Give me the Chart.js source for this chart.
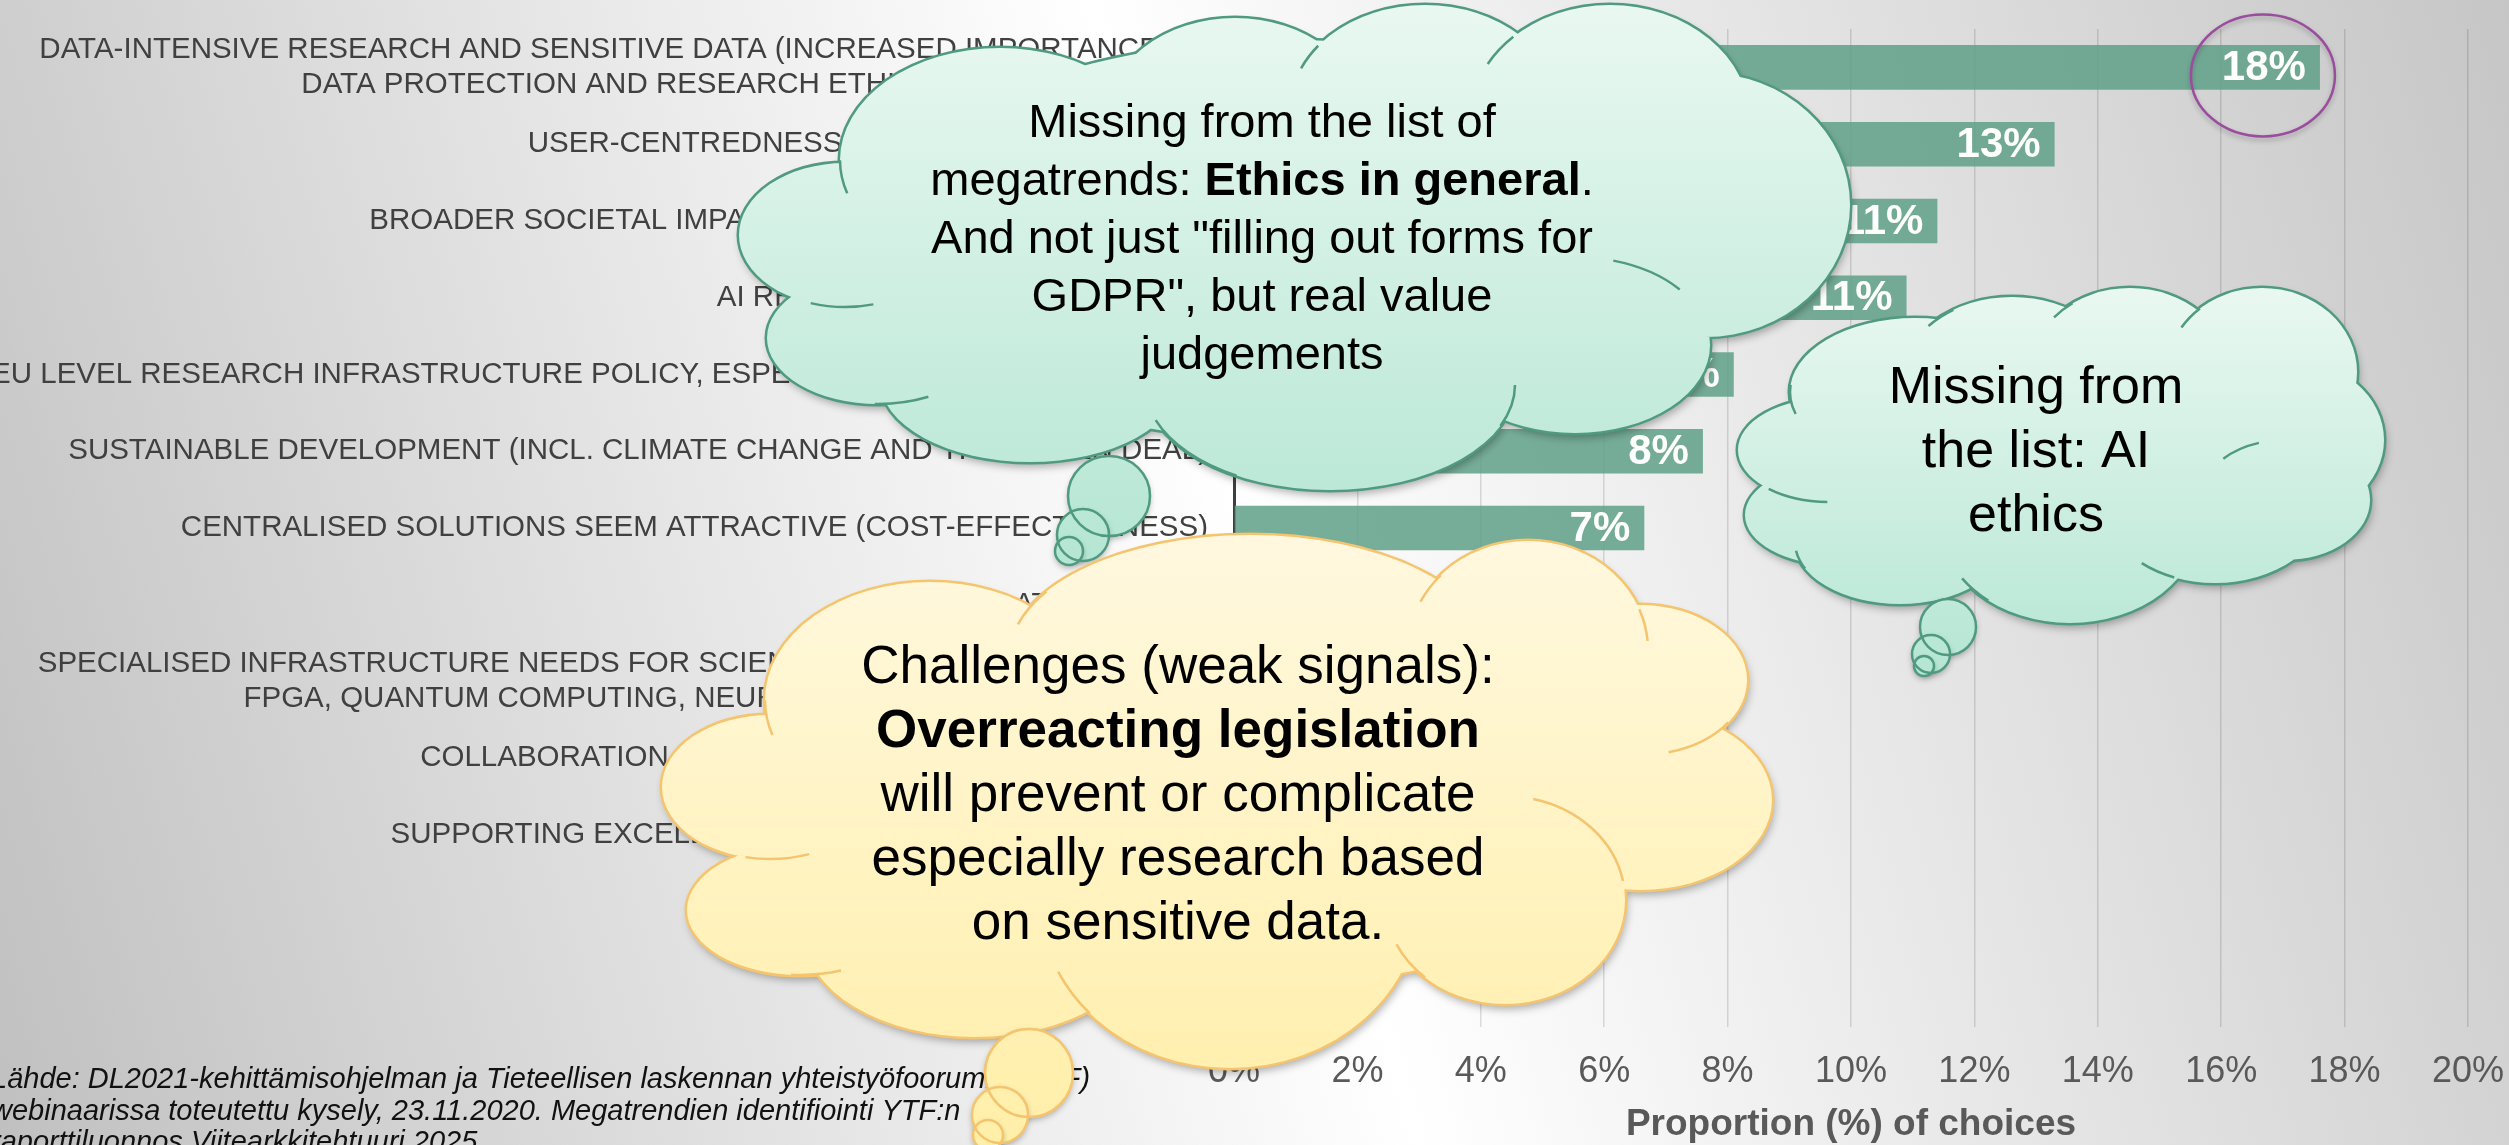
<!DOCTYPE html>
<html>
<head>
<meta charset="utf-8">
<script src="https://cdn.jsdelivr.net/npm/chart.js@4.4.0/dist/chart.umd.min.js"></script>
<style>
html, body { margin: 0; padding: 0; }
body {
    width: 2509px; height: 1145px; overflow: hidden;
    background: linear-gradient(74deg, #c0c0c0 0%, #ffffff 50%, #c6c6c6 100%);
}
canvas { display: block; }
</style>
</head>
<body>
<canvas id="trends" width="2509" height="1145"></canvas>
<script>
// Megatrends, top to bottom (long ones broken in two lines as on the slide)
const TRENDS = [
    ['DATA-INTENSIVE RESEARCH AND SENSITIVE DATA (INCREASED IMPORTANCE OF', 'DATA PROTECTION AND RESEARCH ETHICS)'],
    'USER-CENTREDNESS, USER EXPERIENCE (UX)',
    'BROADER SOCIETAL IMPACT OF RESEARCH AND OF DATA',
    'AI RESEARCH AND APPLICATIONS',
    'EU LEVEL RESEARCH INFRASTRUCTURE POLICY, ESPECIALLY EOSC AND EUROHPC',
    'SUSTAINABLE DEVELOPMENT (INCL. CLIMATE CHANGE AND THE GREEN DEAL)',
    'CENTRALISED SOLUTIONS SEEM ATTRACTIVE (COST-EFFECTIVENESS)',
    'DATA AND HPC',
    ['SPECIALISED INFRASTRUCTURE NEEDS FOR SCIENTIFIC COMPUTING (E.G. GPU,', 'FPGA, QUANTUM COMPUTING, NEURAL NETWORKS)'],
    'COLLABORATION BETWEEN RESEARCH INSTITUTIONS',
    'SUPPORTING EXCELLENCE IN SCIENCE AND RESEARCH',
    'OPEN SCIENCE AND DATA',
    'OTHER'
];

// Proportion (%) of choices
const SHARES = [17.6, 13.3, 11.4, 10.9, 8.1, 7.6, 6.65, 5.9, 5.2, 4.5, 3.8, 3.0, 2.1];

// x axis ticks (%)
const X_TICKS = [0, 2, 4, 6, 8, 10, 12, 14, 16, 18, 20];
const X_TITLE = 'Proportion (%) of choices';

// thought clouds: [text, bold]
const NOTE_ETHICS = [
    [['Missing from the list of', false]],
    [['megatrends: ', false], ['Ethics in general', true], ['.', false]],
    [['And not just "filling out forms for', false]],
    [['GDPR", but real value', false]],
    [['judgements', false]]
];
const NOTE_AI = [
    [['Missing from', false]],
    [['the list: AI', false]],
    [['ethics', false]]
];
const NOTE_LAW = [
    [['Challenges (weak signals):', false]],
    [['Overreacting legislation', true]],
    [['will prevent or complicate', false]],
    [['especially research based', false]],
    [['on sensitive data.', false]]
];

const SOURCE_NOTE = [
    'Lähde: DL2021-kehittämisohjelman ja Tieteellisen laskennan yhteistyöfoorumin (YTF)',
    'webinaarissa toteutettu kysely, 23.11.2020. Megatrendien identifiointi YTF:n',
    'raporttiluonnos Viitearkkitehtuuri 2025'
];

const FONT = '"Liberation Sans", Arial, sans-serif';
const BAR_FILL = 'rgba(95,160,136,0.85)';
const LABEL_GREY = '#404040';
const AXIS_GREY = '#595959';

Chart.defaults.font.family = FONT;

// cloud shapes: bumps [cx, cy, rx, ry], inner arcs [bump index, from, to], bubbles
const CLOUD_ETHICS = {
    top: '#e9f8f1', bottom: '#b5e6d3', line: '#4f9a80',
    bumps: [
        [1000, 160, 160, 112], [1235, 120, 130, 102], [1425, 110, 135, 105],
        [1610, 120, 140, 115], [1705, 205, 145, 132], [1575, 345, 135, 88],
        [1330, 385, 185, 105], [1030, 380, 150, 82], [845, 235, 106, 72],
        [878, 338, 111, 66], [1290, 240, 420, 200]
    ],
    arcs: [[0, 2.84, 3.14], [8, 1.3, 1.9], [9, 1.1, 1.6], [6, 2.1, 2.8],
           [2, 3.55, 3.8], [3, 3.65, 3.95], [5, 5.0, 5.6], [6, 0.0, 0.4]],
    bubbles: [[1109, 496, 41, 40], [1083, 535, 26, 26], [1069, 551, 14, 14]],
    text: NOTE_ETHICS, x: 1262, y: 137, size: 47, lead: 58
};
const CLOUD_AI = {
    top: '#e9f8f1', bottom: '#b5e6d3', line: '#4f9a80',
    bumps: [
        [1915, 392, 125, 74], [1830, 450, 92, 52], [1835, 515, 90, 50],
        [1900, 542, 105, 62], [2070, 522, 130, 101], [2215, 505, 110, 78],
        [2290, 440, 94, 80], [2285, 500, 85, 60], [2012, 380, 110, 83],
        [2130, 372, 100, 84], [2262, 372, 95, 84], [2060, 455, 260, 130]
    ],
    arcs: [[0, 2.84, 3.24], [1, 1.6, 2.3], [3, 2.7, 3.0], [4, 2.25, 2.55],
           [5, 1.95, 2.3], [7, 3.9, 4.4], [8, 3.85, 4.15], [9, 3.85, 4.1], [10, 3.7, 4.0]],
    bubbles: [[1948, 627, 28, 28], [1931, 654, 19, 19], [1924, 666, 10, 10]],
    text: NOTE_AI, x: 2036, y: 403, size: 52, lead: 64
};
const CLOUD_LAW = {
    top: '#fff8df', bottom: '#ffefa8', line: '#f5c46e',
    bumps: [
        [770, 787, 108, 72], [800, 910, 113, 65], [930, 700, 165, 118],
        [1250, 655, 240, 120], [1528, 650, 120, 109], [1640, 680, 107, 75],
        [1640, 800, 132, 90], [1505, 900, 120, 104], [1230, 900, 190, 168],
        [975, 935, 170, 102], [1220, 790, 450, 200]
    ],
    arcs: [[2, 2.84, 3.14], [0, 1.2, 1.8], [1, 1.2, 1.65], [3, 3.4, 3.7],
           [8, 2.4, 2.7], [4, 3.6, 3.9], [4, 5.9, 6.2], [5, 0.6, 1.3],
           [7, 4.95, 6.1], [7, 2.3, 2.7]],
    bubbles: [[1029, 1073, 44, 44], [1000, 1115, 28, 28], [988, 1135, 15, 15]],
    text: NOTE_LAW, x: 1178, y: 683, size: 53, lead: 64
};

function ellipsePath(ctx, e, fresh) {
    if (fresh) ctx.beginPath();
    ctx.moveTo(e[0] + e[2], e[1]);
    ctx.ellipse(e[0], e[1], e[2], e[3], 0, 0, Math.PI * 2);
}

function drawCloud(ctx, c) {
    const all = c.bumps.concat(c.bubbles);
    const top = Math.min(...all.map(e => e[1] - e[3]));
    const bottom = Math.max(...all.map(e => e[1] + e[3]));
    const grad = ctx.createLinearGradient(0, top, 0, bottom);
    grad.addColorStop(0, c.top);
    grad.addColorStop(1, c.bottom);

    ctx.save();
    // soft shadow under the whole cloud
    ctx.shadowColor = 'rgba(0,0,0,0.32)';
    ctx.shadowBlur = 9;
    ctx.shadowOffsetX = 2;
    ctx.shadowOffsetY = 5;
    ctx.fillStyle = grad;
    ctx.beginPath();
    c.bumps.forEach(e => ellipsePath(ctx, e, false));
    ctx.fill();
    ctx.restore();

    ctx.save();
    // outline: stroke each bump wide, then fill the union again
    ctx.strokeStyle = c.line;
    ctx.lineWidth = 5;
    c.bumps.forEach(e => { ellipsePath(ctx, e, true); ctx.stroke(); });
    ctx.fillStyle = grad;
    ctx.beginPath();
    c.bumps.forEach(e => ellipsePath(ctx, e, false));
    ctx.fill();

    ctx.lineWidth = 2.5;
    c.arcs.forEach(a => {
        const e = c.bumps[a[0]];
        ctx.beginPath();
        ctx.ellipse(e[0], e[1], e[2], e[3], 0, a[1], a[2]);
        ctx.stroke();
    });
    ctx.restore();

    // the little thought bubbles
    c.bubbles.forEach(b => {
        ctx.save();
        ctx.shadowColor = 'rgba(0,0,0,0.3)';
        ctx.shadowBlur = 6;
        ctx.shadowOffsetY = 3;
        ctx.fillStyle = grad;
        ellipsePath(ctx, b, true);
        ctx.fill();
        ctx.restore();
    });
    ctx.save();
    ctx.strokeStyle = c.line;
    ctx.lineWidth = 2.5;
    c.bubbles.forEach(b => { ellipsePath(ctx, b, true); ctx.stroke(); });
    ctx.restore();

    // text
    ctx.save();
    ctx.fillStyle = '#000';
    ctx.textAlign = 'left';
    ctx.textBaseline = 'alphabetic';
    c.text.forEach((runs, i) => {
        const parts = runs.map(([t, bold]) => {
            const font = (bold ? 'bold ' : '') + c.size + 'px ' + FONT;
            ctx.font = font;
            return { t, font, w: ctx.measureText(t).width };
        });
        let x = c.x - parts.reduce((s, p) => s + p.w, 0) / 2;
        parts.forEach(p => {
            ctx.font = p.font;
            ctx.fillText(p.t, x, c.y + i * c.lead);
            x += p.w;
        });
    });
    ctx.restore();
}

const slideOverlay = {
    id: 'slideOverlay',
    afterDatasetsDraw(chart) {
        // value labels inside the bar ends
        const ctx = chart.ctx;
        const meta = chart.getDatasetMeta(0);
        ctx.save();
        ctx.fillStyle = '#ffffff';
        ctx.font = 'bold 42px ' + FONT;
        ctx.textAlign = 'right';
        ctx.textBaseline = 'middle';
        meta.data.forEach((bar, i) => {
            ctx.fillText(Math.round(SHARES[i]) + '%', bar.x - 14, bar.y + 1);
        });
        ctx.restore();
    },
    afterDraw(chart) {
        const ctx = chart.ctx;
        const yScale = chart.scales.y;
        const right = chart.chartArea.left - 26;

        // category labels: block right-aligned at the axis, lines centred
        ctx.save();
        ctx.fillStyle = LABEL_GREY;
        ctx.font = '29.5px ' + FONT;
        ctx.textAlign = 'center';
        ctx.textBaseline = 'middle';
        TRENDS.forEach((label, i) => {
            const lines = Array.isArray(label) ? label : [label];
            const w = Math.max(...lines.map(l => ctx.measureText(l).width));
            const cy = yScale.getPixelForTick(i);
            const lead = 35;
            lines.forEach((l, k) => {
                ctx.fillText(l, right - w / 2, cy + (k - (lines.length - 1) / 2) * lead);
            });
        });
        ctx.restore();

        // purple highlight round the top value
        const first = chart.getDatasetMeta(0).data[0];
        ctx.save();
        ctx.strokeStyle = '#9a4c9e';
        ctx.lineWidth = 2.5;
        ctx.shadowColor = 'rgba(0,0,0,0.25)';
        ctx.shadowBlur = 5;
        ctx.shadowOffsetY = 3;
        ctx.beginPath();
        ctx.ellipse(first.x - 57, first.y + 8, 72, 61, 0, 0, Math.PI * 2);
        ctx.stroke();
        ctx.restore();

        // source note
        ctx.save();
        ctx.fillStyle = '#111';
        ctx.font = 'italic 29px ' + FONT;
        ctx.textAlign = 'left';
        ctx.textBaseline = 'alphabetic';
        SOURCE_NOTE.forEach((l, i) => ctx.fillText(l, -9, 1088 + i * 31.5));
        ctx.restore();

        drawCloud(ctx, CLOUD_ETHICS);
        drawCloud(ctx, CLOUD_AI);
        drawCloud(ctx, CLOUD_LAW);
    }
};

new Chart(document.getElementById('trends'), {
    type: 'bar',
    data: {
        labels: TRENDS,
        datasets: [{
            data: SHARES,
            backgroundColor: BAR_FILL,
            borderWidth: 0,
            barPercentage: 0.58,
            categoryPercentage: 1
        }]
    },
    options: {
        indexAxis: 'y',
        responsive: false,
        animation: false,
        events: [],
        layout: { padding: { left: 1234, right: 41, top: 29, bottom: 0 } },
        plugins: { legend: { display: false }, tooltip: { enabled: false } },
        scales: {
            x: {
                min: 0,
                max: 20,
                afterBuildTicks: s => { s.ticks = X_TICKS.map(v => ({ value: v })); },
                afterFit: s => { s.height = 118; },
                ticks: {
                    callback: v => v + '%',
                    color: AXIS_GREY,
                    font: { size: 36 },
                    padding: 4,
                    maxRotation: 0
                },
                grid: {
                    color: 'rgba(0,0,0,0.13)',
                    lineWidth: 1.5,
                    drawTicks: true,
                    tickLength: 19,
                    tickColor: 'rgba(0,0,0,0)'
                },
                border: { display: false },
                title: {
                    display: true,
                    text: X_TITLE,
                    color: AXIS_GREY,
                    font: { size: 37, weight: 'bold', lineHeight: 1 },
                    padding: { top: 13, bottom: 2 }
                }
            },
            y: {
                ticks: { display: false },
                grid: { display: false, drawTicks: false },
                border: { display: true, color: '#3f3f3f', width: 3 }
            }
        }
    },
    plugins: [slideOverlay]
});
</script>
</body>
</html>
